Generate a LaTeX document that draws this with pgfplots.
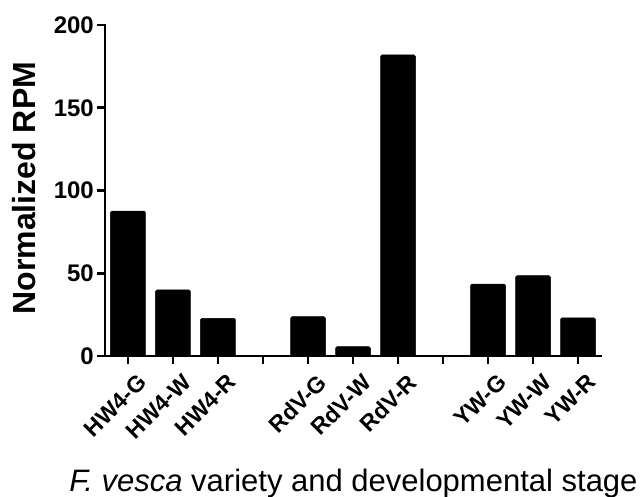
\documentclass[border=0pt]{standalone}
\usepackage{pgfplots}
\pgfplotsset{compat=1.18}
\usepackage{fontspec}
\setmainfont{Liberation Sans}

\pgfplotstableread{
x  rpm
0  87.6
1  39.9
2  22.8
4  23.8
5  5.6
6  181.9
8  43.5
9  48.5
10 23.1
}\rpmdata

\begin{document}
\begin{tikzpicture}
\useasboundingbox (-105pt,-141pt) rectangle (539pt,356pt);
\begin{axis}[
  at={(0pt,0pt)}, anchor=south west,
  scale only axis,
  width=496pt, height=331pt,
  xmin=-0.511, xmax=10.511,
  ymin=0, ymax=200,
  axis lines*=left,
  axis line style={line width=2.6pt, line cap=rect},
  every tick/.style={black, line width=2.6pt},
  tick align=outside,
  major tick length=8pt,
  xtick={0,...,10},
  xticklabels={HW4-G,HW4-W,HW4-R,,RdV-G,RdV-W,RdV-R,,YW-G,YW-W,YW-R},
  ytick={0,50,100,150,200},
  /pgf/number format/assume math mode=true,
  xticklabel style={font=\fontsize{23}{25}\selectfont\bfseries,
    xshift=8.5pt, yshift=-5.5pt, rotate=45, anchor=north east, inner sep=2pt},
  yticklabel style={font=\fontsize{24}{26}\selectfont\bfseries, inner sep=3pt},
  ylabel={\textbf{Normalized RPM}},
  ylabel style={font=\fontsize{32}{35}\selectfont,
    at={(axis description cs:-0.163,0.507)}, anchor=center},
  xlabel={\textit{F.\ vesca} variety and developmental stage},
  xlabel style={font=\fontsize{31}{34}\selectfont,
    at={(axis description cs:0.501,-0.408)}, anchor=base},
  clip=false,
]
\addplot[ybar, bar width=35pt, fill=black, draw=black, line width=0.5pt,
  rounded corners=1.5pt] table[x=x, y=rpm] {\rpmdata};
\end{axis}
\end{tikzpicture}
\end{document}
